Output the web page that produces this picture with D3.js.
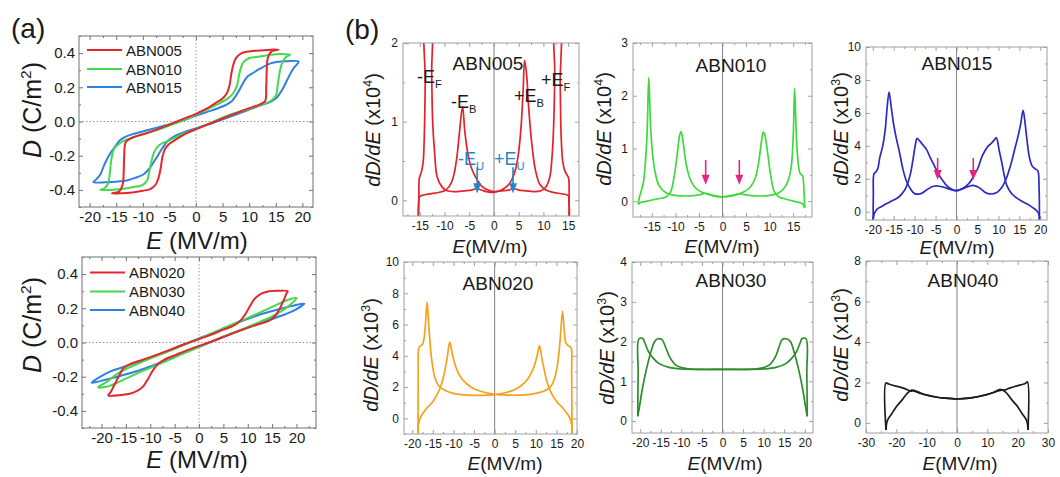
<!DOCTYPE html>
<html>
<head>
<meta charset="utf-8">
<script src="https://cdn.jsdelivr.net/npm/d3@7"></script>
<style>
  html, body { margin: 0; padding: 0; background: #fff; }
  svg { display: block; }
</style>
</head>
<body>
<svg id="fig" width="1060" height="477"></svg>
<script>
// ---------------- D–E hysteresis loops, panel (a) ----------------
// each loop: decreasing-field branch then increasing-field branch, [E (MV/m), D (C/m^2)]
const loopSamplesTop = ["ABN005", "ABN010", "ABN015"];
const loopSamplesBottom = ["ABN020", "ABN030", "ABN040"];

const loop005Dec = [[15.5,0.42],[14,0.42],[12,0.415],[10,0.41],[8.6,0.40],[7.6,0.375],[7.0,0.33],[6.6,0.27],[6.3,0.21],[5.8,0.165],[5,0.135],[3.5,0.105],[2,0.075],[0,0.045],[-2,0.02],[-4,-0.005],[-6,-0.03],[-8,-0.055],[-10,-0.075],[-12,-0.095],[-13.2,-0.12],[-13.5,-0.2],[-13.6,-0.3],[-13.8,-0.37],[-14.5,-0.41],[-15.8,-0.42]];
const loop005Inc = [[-15.8,-0.42],[-14,-0.42],[-12,-0.415],[-10,-0.405],[-8.6,-0.395],[-7.6,-0.37],[-7.0,-0.325],[-6.6,-0.265],[-6.3,-0.205],[-5.8,-0.16],[-5,-0.13],[-3.5,-0.1],[-2,-0.072],[0,-0.045],[2,-0.02],[4,0.005],[6,0.03],[8,0.055],[10,0.078],[12,0.1],[13.0,0.12],[13.2,0.2],[13.3,0.3],[13.5,0.37],[14.2,0.41],[15.5,0.42]];

const loop010Dec = [[17.7,0.39],[16,0.395],[14,0.39],[12,0.38],[10,0.37],[9,0.35],[8.5,0.32],[8.1,0.27],[7.7,0.21],[7,0.165],[6,0.135],[4,0.1],[2,0.07],[0,0.04],[-3,0.0],[-6,-0.035],[-9,-0.065],[-12,-0.095],[-14,-0.12],[-15.4,-0.16],[-15.9,-0.22],[-16.2,-0.3],[-16.5,-0.36],[-17.2,-0.39],[-18,-0.4]];
const loop010Inc = [[-18,-0.4],[-16,-0.4],[-14,-0.395],[-12,-0.385],[-10,-0.37],[-9.2,-0.345],[-8.8,-0.295],[-8.4,-0.235],[-7.8,-0.175],[-7,-0.14],[-5,-0.11],[-3,-0.08],[0,-0.045],[3,-0.005],[6,0.035],[9,0.065],[12,0.095],[14,0.12],[15.0,0.15],[15.4,0.22],[15.8,0.3],[16.3,0.35],[17,0.38],[17.7,0.39]];

const loop015Dec = [[19.3,0.35],[17,0.352],[15.5,0.35],[14,0.34],[12.1,0.31],[10.8,0.285],[9.6,0.26],[8.6,0.21],[7.7,0.16],[6.6,0.115],[5.5,0.095],[3,0.065],[0,0.035],[-3,0.0],[-6,-0.025],[-9,-0.05],[-11.8,-0.073],[-13.3,-0.09],[-14.3,-0.11],[-15.3,-0.15],[-16.2,-0.19],[-17.2,-0.25],[-18,-0.31],[-18.8,-0.34],[-19.3,-0.355]];
const loop015Inc = [[-19.3,-0.355],[-17,-0.355],[-15,-0.352],[-13,-0.345],[-11.5,-0.33],[-9.9,-0.31],[-8.9,-0.28],[-8,-0.24],[-7,-0.19],[-6.2,-0.15],[-5.2,-0.11],[-4,-0.085],[-2,-0.06],[0,-0.04],[3,-0.01],[7,0.035],[10,0.07],[12.7,0.1],[14,0.115],[15.2,0.14],[16.2,0.185],[17.1,0.24],[18.3,0.31],[19.3,0.35]];

const loop020Dec = [[18.2,0.30],[16,0.302],[14,0.297],[12.6,0.283],[11.4,0.255],[10.4,0.21],[9.5,0.165],[8.5,0.128],[7.1,0.098],[5,0.075],[2,0.04],[0,0.02],[-3,-0.01],[-6,-0.043],[-9,-0.075],[-12,-0.105],[-14.3,-0.128],[-15.5,-0.15],[-16.5,-0.2],[-17.4,-0.25],[-18.1,-0.29],[-18.6,-0.31]];
const loop020Inc = [[-18.6,-0.31],[-16,-0.307],[-14,-0.298],[-12.6,-0.282],[-11.4,-0.255],[-10.4,-0.21],[-9.5,-0.165],[-8.5,-0.128],[-7.1,-0.1],[-5,-0.075],[-2,-0.04],[0,-0.02],[3,0.01],[6,0.043],[9,0.075],[12,0.105],[14.4,0.128],[15.6,0.155],[16.6,0.2],[17.4,0.25],[18.0,0.29],[18.2,0.30]];

const loop030Dec = [[20,0.26],[18,0.247],[16,0.222],[14,0.195],[12,0.168],[9,0.132],[6,0.096],[3,0.058],[0,0.022],[-3,-0.013],[-6,-0.048],[-9,-0.083],[-12,-0.118],[-15,-0.155],[-17,-0.188],[-19,-0.232],[-20.7,-0.262]];
const loop030Inc = [[-20.7,-0.262],[-18.5,-0.255],[-16.5,-0.232],[-14,-0.198],[-12,-0.172],[-9,-0.136],[-6,-0.1],[-3,-0.062],[0,-0.026],[3,0.01],[6,0.045],[9,0.08],[12,0.115],[15,0.152],[17,0.185],[19,0.228],[20,0.26]];

const loop040Dec = [[21.6,0.228],[19,0.213],[16,0.192],[13,0.168],[10,0.138],[6,0.094],[3,0.058],[0,0.024],[-3,-0.01],[-6,-0.045],[-10,-0.088],[-13,-0.118],[-16,-0.148],[-19,-0.18],[-22,-0.236]];
const loop040Inc = [[-22,-0.236],[-19,-0.216],[-16,-0.194],[-13,-0.17],[-10,-0.14],[-6,-0.096],[-3,-0.06],[0,-0.026],[3,0.01],[6,0.045],[10,0.088],[13,0.118],[16,0.148],[19,0.18],[21.6,0.228]];

// ---------------- dD/dE curves, panel (b) ----------------
// [E (MV/m), dD/dE in the units of each panel's axis]
const deriv005Inc = [[-15.3,-0.25],[-15.2,0.0],[-15.0,0.05],[-14,0.07],[-12,0.09],[-10,0.12],[-9,0.18],[-8.2,0.3],[-7.5,0.55],[-7,0.85],[-6.35,1.19],[-5.9,0.88],[-5.3,0.6],[-4.5,0.4],[-3.5,0.27],[-2.5,0.18],[-1.2,0.13],[0,0.11],[1.5,0.12],[3,0.13],[4,0.15],[5,0.13],[6.5,0.12],[8,0.11],[9.5,0.12],[10.5,0.17],[11.3,0.3],[11.8,0.6],[12.1,1.0],[12.3,1.6],[12.4,2.3],[13.3,2.3],[13.4,1.5],[13.6,0.8],[13.9,0.5],[14.3,0.38],[14.8,0.32],[15.1,0.28],[15.2,0.0],[15.25,-0.25]];
const deriv005Dec = [[15.25,-0.25],[15.15,0.0],[15.0,0.06],[14,0.08],[12,0.1],[10.5,0.13],[9.3,0.2],[8.4,0.38],[7.6,0.75],[7.0,1.2],[6.6,1.6],[6.2,1.78],[5.9,1.4],[5.5,0.95],[5.0,0.62],[4.4,0.4],[3.6,0.26],[2.5,0.17],[1.2,0.12],[0,0.1],[-1.5,0.11],[-2.5,0.13],[-3.5,0.15],[-4.5,0.13],[-6,0.12],[-8,0.11],[-9.5,0.12],[-10.5,0.17],[-11.5,0.3],[-12,0.6],[-12.4,1.0],[-12.6,1.6],[-12.8,2.3],[-13.8,2.3],[-13.9,1.5],[-14.1,0.8],[-14.3,0.5],[-14.6,0.38],[-14.9,0.32],[-15.1,0.28],[-15.2,0.0],[-15.3,-0.25]];

const deriv010Inc = [[-17.9,-0.06],[-17.5,-0.03],[-16,0.0],[-14,0.04],[-12,0.08],[-11,0.18],[-10.3,0.45],[-9.6,0.9],[-9.1,1.25],[-8.8,1.32],[-8.4,1.15],[-7.8,0.75],[-7,0.45],[-6,0.28],[-5,0.2],[-3.5,0.14],[-2,0.11],[0,0.08],[2,0.1],[3.7,0.14],[5,0.12],[7,0.1],[10,0.11],[12,0.16],[13.5,0.3],[14.5,0.6],[15.0,1.2],[15.3,2.14],[15.7,1.2],[16.1,0.7],[16.5,0.52],[17.0,0.48],[17.2,0.35],[17.35,0.1],[17.45,-0.13]];
const deriv010Dec = [[17.45,-0.13],[17,-0.05],[15,0.0],[13,0.05],[12,0.08],[11,0.18],[10.3,0.45],[9.6,0.9],[9.0,1.25],[8.65,1.31],[8.3,1.15],[7.7,0.75],[7,0.45],[6,0.28],[5,0.2],[3.5,0.14],[2,0.11],[0,0.08],[-2,0.1],[-3.5,0.15],[-5,0.12],[-7,0.1],[-10,0.11],[-12,0.16],[-13.5,0.3],[-14.5,0.65],[-15.2,1.3],[-15.65,2.35],[-16.0,1.3],[-16.4,0.7],[-16.8,0.35],[-17.3,0.18],[-17.7,0.05],[-17.9,-0.06]];

const deriv015Inc = [[-19.9,-0.5],[-19.6,-0.1],[-19,0.15],[-18,0.3],[-17,0.45],[-15.5,0.65],[-14,0.85],[-13,1.1],[-12,1.5],[-11,2.3],[-10.3,3.3],[-9.8,4.1],[-9.4,4.45],[-8.8,4.3],[-8,4.05],[-7.2,3.8],[-6.3,3.3],[-5.3,2.8],[-4.3,2.3],[-3.3,1.9],[-2.2,1.55],[-1,1.35],[0,1.28],[1,1.35],[2,1.45],[3,1.55],[4,1.6],[5.5,1.45],[7,1.15],[8,1.08],[9.5,1.15],[11,1.55],[12,2.1],[13,2.9],[14,3.9],[14.7,4.6],[15.3,5.3],[15.9,6.16],[16.4,5.3],[16.8,4.4],[17.4,3.3],[18,2.8],[18.8,2.6],[19.4,2.5],[19.7,1.5],[19.8,-0.5]];
const deriv015Dec = [[19.8,-0.5],[19.6,-0.1],[19,0.1],[18.2,0.25],[17,0.45],[15.5,0.65],[14,0.9],[13,1.15],[12,1.6],[11.4,2.2],[10.8,3.0],[10.2,3.7],[9.5,4.5],[9.0,4.35],[8.3,4.15],[7.6,4.0],[6.8,3.7],[6,3.3],[5.2,2.7],[4.4,2.3],[3.5,1.9],[2.5,1.6],[1.3,1.4],[0,1.28],[-1,1.32],[-2.5,1.45],[-4,1.55],[-5.5,1.55],[-7,1.35],[-8.5,1.1],[-10,1.1],[-11,1.4],[-12,1.9],[-12.8,2.6],[-13.6,3.6],[-14.4,4.5],[-15,5.3],[-15.6,6.4],[-16.1,7.27],[-16.6,6.2],[-17,5.0],[-17.6,4.0],[-18.3,3.3],[-18.8,2.6],[-19.3,2.4],[-19.7,2.3],[-19.85,1.0],[-19.9,-0.5]];

const deriv020Inc = [[-18.6,-1],[-18.5,-0.4],[-18.1,0.0],[-17.5,0.3],[-16.5,0.65],[-15.2,1.0],[-14,1.5],[-13,2.1],[-12.2,2.9],[-11.5,3.9],[-10.9,4.88],[-10.4,4.3],[-9.8,3.6],[-9,3.0],[-8,2.55],[-6.5,2.15],[-5,1.9],[-3,1.7],[-1,1.58],[0,1.55],[2,1.5],[5,1.48],[8,1.52],[10,1.6],[12,1.75],[13.5,2.0],[14.5,2.5],[15.3,3.5],[15.9,5.0],[16.5,6.85],[16.9,5.6],[17.2,4.9],[17.6,4.7],[18.2,4.6],[18.6,4.5],[18.7,3.0],[18.8,-1]];
const deriv020Dec = [[18.8,-1],[18.7,-0.4],[18.3,0.0],[17.6,0.3],[16.6,0.65],[15.3,1.0],[14,1.5],[13,2.1],[12.2,2.9],[11.5,3.8],[10.9,4.66],[10.4,4.1],[9.8,3.5],[9,2.95],[8,2.5],[6.5,2.1],[5,1.85],[3,1.67],[1,1.55],[0,1.52],[-2,1.48],[-5,1.47],[-8,1.52],[-10,1.6],[-12,1.78],[-13.5,2.05],[-14.5,2.6],[-15.3,3.8],[-15.9,5.6],[-16.4,7.43],[-16.8,6.0],[-17.2,5.0],[-17.6,4.7],[-18.2,4.6],[-18.45,4.45],[-18.55,3.0],[-18.6,-1]];

const deriv030Inc = [[-20.6,0.12],[-20.2,0.35],[-19.5,0.8],[-18.5,1.3],[-17.5,1.7],[-16.5,2.0],[-15.7,2.07],[-14.7,2.05],[-13.8,1.85],[-12.8,1.6],[-11.5,1.42],[-9.5,1.33],[-6,1.3],[0,1.3],[6,1.3],[10,1.31],[13,1.35],[15.5,1.45],[17,1.6],[18,1.75],[19,2.0],[19.3,2.07],[20.3,2.07],[20.5,1.2],[20.6,0.12]];
const deriv030Dec = [[20.6,0.12],[20.2,0.35],[19.5,0.8],[18.5,1.3],[17.5,1.7],[16.5,2.0],[15.5,2.07],[14.5,2.05],[13.7,1.85],[12.8,1.6],[11.5,1.42],[9.5,1.33],[6,1.3],[0,1.3],[-6,1.3],[-10,1.31],[-13,1.35],[-15.5,1.45],[-17,1.6],[-18,1.75],[-19,2.0],[-19.3,2.07],[-20.3,2.07],[-20.5,1.2],[-20.6,0.12]];

const deriv040Inc = [[-23.4,-0.35],[-23,0.1],[-21.5,0.45],[-20,0.8],[-18,1.15],[-16.5,1.45],[-15,1.62],[-14,1.6],[-12,1.48],[-10,1.38],[-7,1.28],[-4,1.22],[0,1.18],[4,1.22],[7,1.3],[10,1.4],[12,1.5],[14,1.65],[15.5,1.62],[17,1.7],[19,1.8],[21,1.88],[22.5,1.95],[23.2,2.02],[23.4,-0.35]];
const deriv040Dec = [[23.4,-0.35],[23,0.1],[21.5,0.45],[20,0.8],[18,1.15],[16.5,1.45],[15,1.62],[13,1.55],[11,1.45],[8,1.33],[4,1.22],[0,1.18],[-4,1.22],[-7,1.28],[-10,1.37],[-12,1.45],[-14,1.57],[-15.5,1.58],[-17,1.68],[-19,1.78],[-21,1.85],[-22.5,1.92],[-23.4,1.97],[-23.4,-0.35]];

// arrow annotations: [E, start value, tip value]
const arrows005 = [[-3.4, 0.42, 0.09], [3.85, 0.42, 0.09]];
const arrows010 = [[-3.57, 0.78, 0.31], [3.57, 0.78, 0.31]];
const arrows015 = [[-4.5, 3.26, 1.93], [4.0, 3.26, 1.93]];

// tick values
const ticksLoopY = [-0.4, -0.2, 0.0, 0.2, 0.4];
const ticksLoopX = [-20, -15, -10, -5, 0, 5, 10, 15, 20];
const ticks005X = [-15, -10, -5, 0, 5, 10, 15];
const ticks005Y = [0, 1, 2];
const ticks010Y = [0, 1, 2, 3];
const ticks015X = [-20, -15, -10, -5, 0, 5, 10, 15, 20];
const ticks015Y = [0, 2, 4, 6, 8, 10];
const ticks020Y = [0, 2, 4, 6, 8, 10];
const ticks030Y = [0, 1, 2, 3, 4];
const ticks040X = [-30, -20, -10, 0, 10, 20, 30];
const ticks040Y = [0, 2, 4, 6, 8];

// ---------------- drawing ----------------
const FONT = "'Liberation Sans', Arial, Helvetica, sans-serif";
const svg = d3.select("#fig").attr("font-family", FONT);
let clipCount = 0;

function minorBetween(ticks, dom) {
  const out = [];
  const step = ticks[1] - ticks[0];
  const half = step / 2;
  for (let v = ticks[0] - half; v <= ticks[ticks.length - 1] + half + 1e-9; v += step) {
    if (v >= Math.min(...dom) - 1e-9 && v <= Math.max(...dom) + 1e-9) out.push(+v.toFixed(6));
  }
  return out;
}

function richText(sel, parts, size) {
  let shift = 0;
  parts.forEach(p => {
    const ts = sel.append("tspan").text(p.t);
    let target = 0, fs = size;
    if (p.sup) { target = -size * 0.42; fs = size * 0.62; }
    if (p.sub) { target = size * 0.28; fs = size * 0.62; }
    ts.attr("dy", target - shift).attr("font-size", fs);
    if (p.italic) ts.attr("font-style", "italic");
    shift = target;
  });
  return sel;
}

function makePanel(f, xDom, yDom, o) {
  const x = d3.scaleLinear().domain(xDom).range([f.x0, f.x1]);
  const y = d3.scaleLinear().domain(yDom).range([f.y1, f.y0]);
  const g = svg.append("g");
  const cid = "clip" + (clipCount++);
  g.append("clipPath").attr("id", cid).append("rect")
    .attr("x", f.x0).attr("y", f.y0).attr("width", f.x1 - f.x0).attr("height", f.y1 - f.y0);

  const styleAxis = (a, keepText) => {
    a.select(".domain").remove();
    a.selectAll("line").attr("stroke", o.frame).attr("stroke-width", 1);
    if (keepText) a.selectAll("text").attr("font-family", FONT).attr("font-size", o.tickFont).attr("fill", "#1a1a1a");
    else a.selectAll("text").remove();
  };
  const xMinor = minorBetween(o.xTicks, xDom), yMinor = minorBetween(o.yTicks, yDom);
  const axes = [
    [d3.axisBottom(x).tickValues(o.xTicks).tickFormat(o.fmtX).tickSizeInner(-o.tick).tickSizeOuter(0).tickPadding(o.padX), `translate(0,${f.y1})`, true],
    [d3.axisTop(x).tickValues(o.xTicks).tickSizeInner(-o.tick).tickSizeOuter(0), `translate(0,${f.y0})`, false],
    [d3.axisLeft(y).tickValues(o.yTicks).tickFormat(o.fmtY).tickSizeInner(-o.tick).tickSizeOuter(0).tickPadding(o.padY), `translate(${f.x0},0)`, true],
    [d3.axisRight(y).tickValues(o.yTicks).tickSizeInner(-o.tick).tickSizeOuter(0), `translate(${f.x1},0)`, false],
    [d3.axisBottom(x).tickValues(xMinor).tickSizeInner(-o.minor).tickSizeOuter(0), `translate(0,${f.y1})`, false],
    [d3.axisTop(x).tickValues(xMinor).tickSizeInner(-o.minor).tickSizeOuter(0), `translate(0,${f.y0})`, false],
    [d3.axisLeft(y).tickValues(yMinor).tickSizeInner(-o.minor).tickSizeOuter(0), `translate(${f.x0},0)`, false],
    [d3.axisRight(y).tickValues(yMinor).tickSizeInner(-o.minor).tickSizeOuter(0), `translate(${f.x1},0)`, false]
  ];
  axes.forEach(([ax, tr, keep]) => styleAxis(g.append("g").attr("transform", tr).call(ax), keep));

  const plot = g.append("g").attr("clip-path", `url(#${cid})`);
  g.append("rect").attr("x", f.x0).attr("y", f.y0).attr("width", f.x1 - f.x0).attr("height", f.y1 - f.y0)
    .attr("fill", "none").attr("stroke", o.frame).attr("stroke-width", 1);
  return { x, y, g, plot };
}

// ---- panel (a) ----
const loopColors = { red: "#e4262d", green: "#44d84a", blue: "#2f80e2" };
const loopOpts = {
  frame: "#707070", tick: 4, minor: 2, tickFont: 15, padX: 4, padY: 4,
  xTicks: ticksLoopX, yTicks: ticksLoopY,
  fmtX: d => String(d), fmtY: d => d.toFixed(1)
};

function drawLoopPanel(f, xDom, loops, names, legendPos) {
  const p = makePanel(f, xDom, [-0.5, 0.5], loopOpts);
  p.plot.append("line").attr("x1", p.x(0)).attr("x2", p.x(0)).attr("y1", f.y0).attr("y2", f.y1)
    .attr("stroke", "#9a9a9a").attr("stroke-width", 1).attr("stroke-dasharray", "1.5,2");
  p.plot.append("line").attr("x1", f.x0).attr("x2", f.x1).attr("y1", p.y(0)).attr("y2", p.y(0))
    .attr("stroke", "#9a9a9a").attr("stroke-width", 1).attr("stroke-dasharray", "1.5,2");
  const line = d3.line().x(d => p.x(d[0])).y(d => p.y(d[1])).curve(d3.curveCatmullRomClosed.alpha(0.5));
  // drawn back to front: blue, green, red
  [2, 1, 0].forEach(i => {
    const L = loops[i];
    const pts = L.dec.concat(L.inc.slice(1, -1));
    p.plot.append("path").attr("d", line(pts)).attr("fill", "none")
      .attr("stroke", L.color).attr("stroke-width", 2).attr("stroke-linejoin", "round");
  });
  names.forEach((n, i) => {
    const yy = legendPos.y[i];
    p.g.append("line").attr("x1", legendPos.x).attr("x2", legendPos.x + 35).attr("y1", yy).attr("y2", yy)
      .attr("stroke", loops[i].color).attr("stroke-width", 2.2);
    p.g.append("text").attr("x", legendPos.x + 39).attr("y", yy + 5.5).attr("font-size", 15).attr("fill", "#1a1a1a").text(n);
  });
  return p;
}

const frameA1 = { x0: 79, x1: 313, y0: 36, y1: 207 };
const frameA2 = { x0: 82, x1: 316, y0: 257, y1: 428 };

drawLoopPanel(frameA1, [-22, 22], [
  { dec: loop005Dec, inc: loop005Inc, color: loopColors.red },
  { dec: loop010Dec, inc: loop010Inc, color: loopColors.green },
  { dec: loop015Dec, inc: loop015Inc, color: loopColors.blue }
], loopSamplesTop, { x: 87, y: [50, 69, 87] });

drawLoopPanel(frameA2, [-24, 24], [
  { dec: loop020Dec, inc: loop020Inc, color: loopColors.red },
  { dec: loop030Dec, inc: loop030Inc, color: loopColors.green },
  { dec: loop040Dec, inc: loop040Inc, color: loopColors.blue }
], loopSamplesBottom, { x: 90, y: [272.5, 291.5, 310] });

// axis titles of (a)
[[frameA1, 110, 249], [frameA2, 325, 468]].forEach(([f, cy, xb]) => {
  richText(svg.append("text").attr("transform", `translate(41,${cy}) rotate(-90)`).attr("text-anchor", "middle").attr("fill", "#1a1a1a"),
    [{ t: "D", italic: true }, { t: " (C/m" }, { t: "2", sup: true }, { t: ")" }], 25);
  richText(svg.append("text").attr("x", 197).attr("y", xb).attr("text-anchor", "middle").attr("fill", "#1a1a1a"),
    [{ t: "E", italic: true }, { t: " (MV/m)" }], 24);
});

svg.append("text").attr("x", 11).attr("y", 38).attr("font-size", 28).attr("fill", "#1a1a1a").text("(a)");
svg.append("text").attr("x", 345).attr("y", 39).attr("font-size", 28).attr("fill", "#1a1a1a").text("(b)");

// ---- panel (b) ----
const derivPanels = [
  { name: "ABN005", frame: { x0: 403, x1: 579, y0: 43, y1: 216 }, xDom: [-18.4, 17.2], yDom: [-0.2, 2],
    xTicks: ticks005X, yTicks: ticks005Y, inc: deriv005Inc, dec: deriv005Dec, color: "#e3232b", exp: "4",
    title: [488, 70], ylab: [380, 130], xlab: [490, 253], arrows: arrows005, arrowColor: "#1f86c8" },
  { name: "ABN010", frame: { x0: 633, x1: 812, y0: 43, y1: 217 }, xDom: [-19, 19], yDom: [-0.3, 3],
    xTicks: ticks005X, yTicks: ticks010Y, inc: deriv010Inc, dec: deriv010Dec, color: "#3fd93f", exp: "4",
    title: [731, 72], ylab: [611, 129], xlab: [722, 253], arrows: arrows010, arrowColor: "#e8237e" },
  { name: "ABN015", frame: { x0: 866, x1: 1047, y0: 47, y1: 220 }, xDom: [-21.6, 21.6], yDom: [-0.5, 10],
    xTicks: ticks015X, yTicks: ticks015Y, inc: deriv015Inc, dec: deriv015Dec, color: "#2b2bc2", exp: "3",
    title: [957, 70], ylab: [848, 129], xlab: [957, 254], arrows: arrows015, arrowColor: "#e8237e" },
  { name: "ABN020", frame: { x0: 404, x1: 577, y0: 262, y1: 434 }, xDom: [-22, 20], yDom: [-1, 10],
    xTicks: ticks015X, yTicks: ticks020Y, inc: deriv020Inc, dec: deriv020Dec, color: "#f4a11e", exp: "3",
    title: [498, 290], ylab: [378, 355], xlab: [505, 470], arrows: [] },
  { name: "ABN030", frame: { x0: 632, x1: 813, y0: 262, y1: 433 }, xDom: [-22, 22], yDom: [-0.3, 4],
    xTicks: ticks015X, yTicks: ticks030Y, inc: deriv030Inc, dec: deriv030Dec, color: "#2e8c2e", exp: "3",
    title: [731, 287], ylab: [614, 348], xlab: [725, 470], arrows: [] },
  { name: "ABN040", frame: { x0: 866, x1: 1048, y0: 261, y1: 433 }, xDom: [-30, 30], yDom: [-0.5, 8],
    xTicks: ticks040X, yTicks: ticks040Y, inc: deriv040Inc, dec: deriv040Dec, color: "#1c1c1c", exp: "3",
    title: [963, 287], ylab: [848, 345], xlab: [960, 470], arrows: [] }
];

derivPanels.forEach(d => {
  const p = makePanel(d.frame, d.xDom, d.yDom, {
    frame: "#a0a0a0", tick: 4, minor: 2, tickFont: 12, padX: 5, padY: 5,
    xTicks: d.xTicks, yTicks: d.yTicks, fmtX: v => String(v), fmtY: v => String(v)
  });
  p.plot.append("line").attr("x1", p.x(0)).attr("x2", p.x(0)).attr("y1", d.frame.y0).attr("y2", d.frame.y1)
    .attr("stroke", "#8c8c8c").attr("stroke-width", 1.1);
  const line = d3.line().x(v => p.x(v[0])).y(v => p.y(v[1])).curve(d3.curveCatmullRom.alpha(0.5));
  [d.inc, d.dec].forEach(br => {
    p.plot.append("path").attr("d", line(br)).attr("fill", "none").attr("stroke", d.color)
      .attr("stroke-width", 1.7).attr("stroke-linejoin", "round");
  });
  d.arrows.forEach(([e, v0, v1]) => {
    const ax = p.x(e), ay0 = p.y(v0), ay1 = p.y(v1);
    p.g.append("line").attr("x1", ax).attr("x2", ax).attr("y1", ay0).attr("y2", ay1 - 8)
      .attr("stroke", d.arrowColor).attr("stroke-width", 1.6);
    p.g.append("path").attr("d", `M${ax - 4},${ay1 - 10}L${ax + 4},${ay1 - 10}L${ax},${ay1}Z`).attr("fill", d.arrowColor);
  });
  p.g.append("text").attr("x", d.title[0]).attr("y", d.title[1]).attr("text-anchor", "middle")
    .attr("font-size", 19).attr("fill", "#1a1a1a").text(d.name);
  richText(p.g.append("text").attr("transform", `translate(${d.ylab[0]},${d.ylab[1]}) rotate(-90)`)
    .attr("text-anchor", "middle").attr("fill", "#1a1a1a"),
    [{ t: "dD/dE", italic: true }, { t: " (x10" }, { t: d.exp, sup: true }, { t: ")" }], 20);
  richText(p.g.append("text").attr("x", d.xlab[0]).attr("y", d.xlab[1]).attr("text-anchor", "middle").attr("fill", "#1a1a1a"),
    [{ t: "E", italic: true }, { t: "(MV/m)" }], 19);
});

// switching-field labels in the ABN005 panel
const fieldLabels = [
  { x: 417, y: 83, sign: "-", sub: "F", color: "#1a1a1a" },
  { x: 451, y: 108, sign: "-", sub: "B", color: "#1a1a1a" },
  { x: 514, y: 102, sign: "+", sub: "B", color: "#1a1a1a" },
  { x: 541, y: 86, sign: "+", sub: "F", color: "#1a1a1a" },
  { x: 458, y: 165, sign: "-", sub: "U", color: "#1f86c8" },
  { x: 494, y: 165, sign: "+", sub: "U", color: "#1f86c8" }
];
fieldLabels.forEach(l => {
  richText(svg.append("text").attr("x", l.x).attr("y", l.y).attr("fill", l.color),
    [{ t: l.sign + "E" }, { t: l.sub, sub: true }], 18);
});
</script>
</body>
</html>
